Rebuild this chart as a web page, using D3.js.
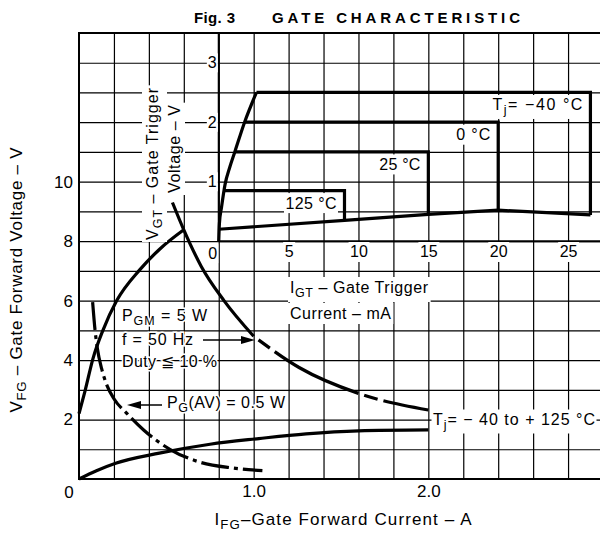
<!DOCTYPE html>
<html>
<head>
<meta charset="utf-8">
<script src="https://cdn.jsdelivr.net/npm/d3@7"></script>
<style>
    body { margin: 0; background: #fff; }
    svg text { font-family: "Liberation Sans", Arial, Helvetica, sans-serif; fill: #000; }
</style>
</head>
<body>
<svg id="chart" width="600" height="534"></svg>
<script>
// Fig. 3 gate characteristic: main chart in A / V, inset chart in mA / V

// main chart ticks
const xTicks = [1.0, 2.0];
const yTicks = [2, 4, 6, 8, 10];

// main curves, [IFG (A), VFG (V)]
const upperCurve = [[0, 2.2], [0.034, 2.95], [0.08, 4.05], [0.137, 5.0], [0.216, 6.0], [0.35, 7.05], [0.46, 7.72], [0.6, 8.38]];
const lowerCurve = [[0, 0], [0.1, 0.28], [0.21, 0.53], [0.46, 0.87], [0.75, 1.17], [1.03, 1.36], [1.3, 1.52], [1.6, 1.62], [2.0, 1.65]];
const pgmCurve = [[0.535, 9.3], [0.6, 8.38], [0.7, 7.15], [0.83, 6.0], [1.0, 4.8]];
const pgmTail = [[1.0, 4.8], [1.26, 3.75], [1.6, 2.88], [2.0, 2.32]];
const pgavCurve = [[0.078, 5.95], [0.092, 5.0], [0.105, 4.4], [0.13, 3.7], [0.16, 3.15], [0.2, 2.7], [0.275, 2.2], [0.37, 1.65], [0.52, 1.0], [0.69, 0.57], [0.88, 0.37], [1.05, 0.28]];

// inset ticks
const innerXTicks = [5, 10, 15, 20, 25];
const innerYTicks = [1, 2, 3];

// inset curves, [IGT (mA), VGT (V)]
const trigLeft = [[0, 0], [0.05, 0.3], [0.2, 0.57], [0.45, 0.95], [0.8, 1.25], [1.15, 1.5], [1.85, 2.0], [2.7, 2.5]];
const trigBottom = [[0, 0.2], [9, 0.35], [15, 0.45], [20, 0.52], [26.6, 0.44]];
const trigTemps = ["125 °C", "25 °C", "0 °C", "−40 °C"];
const trigTopV = [0.85, 1.5, 2.0, 2.5];
const trigLeftI = [0.4, 1.15, 1.85, 2.7];
const trigRightI = [9, 15, 20, 26.6];
const trigBottomV = [0.35, 0.45, 0.52, 0.44];

const svg = d3.select("#chart");
svg.append("rect").attr("width", 600).attr("height", 534).attr("fill", "#fff");

const x = d3.scaleLinear().domain([0, 3]).range([79, 603]);
const y = d3.scaleLinear().domain([0, 15]).range([479, 33]);
const xi = d3.scaleLinear().domain([0, 25]).range([x(0.8), x(2.8)]);
const yi = d3.scaleLinear().domain([0, 3]).range([y(8), y(14)]);

// grid every 0.2 A and 1 V
svg.append("g")
    .attr("transform", `translate(0,${y(0)})`)
    .call(d3.axisBottom(x).tickValues(d3.range(0.2, 3, 0.2)).tickSize(y(15) - y(0)).tickFormat(""))
    .call(g => g.select(".domain").remove())
    .call(g => g.selectAll("line").attr("stroke", "#000").attr("stroke-width", 1.2));

svg.append("g")
    .attr("transform", `translate(${x(0)},0)`)
    .call(d3.axisLeft(y).tickValues(d3.range(1, 15, 1)).tickSize(-(x(3) - x(0))).tickFormat(""))
    .call(g => g.select(".domain").remove())
    .call(g => g.selectAll("line").attr("stroke", "#000").attr("stroke-width", 1.2));

svg.append("rect")
    .attr("x", x(0)).attr("y", y(15))
    .attr("width", x(3) - x(0)).attr("height", y(0) - y(15))
    .attr("fill", "none").attr("stroke", "#000").attr("stroke-width", 2);

// inset axes
svg.append("line")
    .attr("x1", xi(0)).attr("x2", x(3)).attr("y1", yi(0)).attr("y2", yi(0))
    .attr("stroke", "#000").attr("stroke-width", 2);
svg.append("line")
    .attr("x1", xi(0)).attr("x2", xi(0)).attr("y1", y(15)).attr("y2", yi(0))
    .attr("stroke", "#000").attr("stroke-width", 2);

// white box behind a text, same transform
function knockout(text, pad = 1) {
    text.each(function () {
        const b = this.getBBox();
        d3.select(this.parentNode).insert("rect", () => this)
            .attr("x", b.x - pad).attr("y", b.y - pad)
            .attr("width", b.width + 2 * pad).attr("height", b.height + 2 * pad)
            .attr("transform", this.getAttribute("transform"))
            .attr("fill", "#fff");
    });
}

// text made of plain strings and [subscript] pieces
function label(parent, px, py, parts, opts = {}) {
    const size = opts.size || 16;
    const t = parent.append("text").attr("x", px).attr("y", py).attr("font-size", size);
    if (opts.anchor) t.attr("text-anchor", opts.anchor);
    if (opts.weight) t.attr("font-weight", opts.weight);
    if (opts.len) t.attr("textLength", opts.len).attr("lengthAdjust", "spacing");
    if (opts.rotate) t.attr("transform", `rotate(-90,${px},${py})`);
    let down = false;
    parts.forEach(p => {
        const sub = Array.isArray(p);
        const s = t.append("tspan").text(sub ? p[0] : p);
        if (sub && !down) { s.attr("dy", 4).attr("font-size", size * 0.78); down = true; }
        else if (!sub && down) { s.attr("dy", -4); down = false; }
    });
    if (opts.halo) {
        t.attr("stroke", "#fff").attr("stroke-width", 3).attr("paint-order", "stroke");
    }
    return t;
}

// curves
const lineMain = d3.line().x(d => x(d[0])).y(d => y(d[1])).curve(d3.curveMonotoneX);
const lineInner = d3.line().x(d => xi(d[0])).y(d => yi(d[1])).curve(d3.curveMonotoneX);

const curves = svg.append("g")
    .attr("fill", "none").attr("stroke", "#000").attr("stroke-width", 3.2);

curves.append("path").attr("d", lineMain(upperCurve));
curves.append("path").attr("d", lineMain(lowerCurve));
curves.append("path").attr("d", lineMain(pgmCurve));
curves.append("path").attr("d", lineMain(pgmTail))
    .attr("stroke-dasharray", "94,6,14,6").attr("stroke-dashoffset", 94);
curves.append("path").attr("d", lineMain(pgavCurve))
    .attr("stroke-dasharray", "28,5,4,5");

curves.append("path").attr("d", lineInner(trigLeft));
curves.append("path").attr("d", d3.line().x(d => xi(d[0])).y(d => yi(d[1]))(trigBottom));

trigTemps.forEach((t, i) => {
    curves.append("path")
        .attr("stroke-linejoin", "miter")
        .attr("d", d3.line()([
            [xi(trigLeftI[i]), yi(trigTopV[i])],
            [xi(trigRightI[i]), yi(trigTopV[i])],
            [xi(trigRightI[i]), yi(trigBottomV[i])]
        ]));
});

// temperature labels inside the inset boxes
const tempLen = [51, 41, 34, 90];
trigTemps.forEach((t, i) => {
    const parts = i === 3 ? ["T", ["j"], "= " + t] : [t];
    const txt = label(svg, xi(trigRightI[i]) - 8, yi(trigTopV[i]) + 18, parts,
        { anchor: "end", len: tempLen[i] });
    knockout(txt, 1.5);
});

// main tick labels
svg.append("g")
    .attr("transform", `translate(${x(0)},0)`)
    .call(d3.axisLeft(y).tickValues(yTicks).tickSize(0).tickPadding(6))
    .call(g => g.select(".domain").remove())
    .call(g => g.selectAll("text").attr("font-size", 17).attr("font-family", null));

svg.append("g")
    .attr("transform", `translate(0,${y(0)})`)
    .call(d3.axisBottom(x).tickValues(xTicks).tickSize(0).tickPadding(6).tickFormat(d3.format(".1f")))
    .call(g => g.select(".domain").remove())
    .call(g => g.selectAll("text").attr("font-size", 17).attr("font-family", null));

svg.append("text").attr("x", x(0) - 10).attr("y", y(0) + 19)
    .attr("text-anchor", "middle").attr("font-size", 17).text("0");

// inset tick labels
svg.append("g")
    .attr("transform", `translate(0,${yi(0)})`)
    .call(d3.axisBottom(xi).tickValues(innerXTicks).tickSize(0).tickPadding(5).tickFormat(d3.format("d")))
    .call(g => g.select(".domain").remove())
    .call(g => g.selectAll("text").attr("font-size", 16).attr("font-family", null))
    .call(g => knockout(g.selectAll("text"), 1.5));

svg.append("g")
    .attr("transform", `translate(${xi(0)},0)`)
    .call(d3.axisLeft(yi).tickValues(innerYTicks).tickSize(0).tickPadding(2).tickFormat(d3.format("d")))
    .call(g => g.select(".domain").remove())
    .call(g => g.selectAll("text").attr("font-size", 16).attr("font-family", null))
    .call(g => knockout(g.selectAll("text"), 1));

const zeroIn = svg.append("text").attr("x", xi(0) - 6).attr("y", yi(0) + 18)
    .attr("text-anchor", "middle").attr("font-size", 16).text("0");
knockout(zeroIn, 1);

// inset axis titles
knockout(label(svg, 158, 240, ["V", ["GT"], " – Gate Trigger"], { rotate: true, len: 152 }), 2);
knockout(label(svg, 180, 193, ["Voltage – V"], { rotate: true, len: 88 }), 2);
knockout(label(svg, 290, 293, ["I", ["GT"], " – Gate Trigger"], { len: 138 }), 2);
knockout(label(svg, 290, 319, ["Current – mA"], { len: 101 }), 2);

// ratings annotations
label(svg, 122, 321, ["P", ["GM"], " = 5 W"], { len: 85, halo: true });
label(svg, 122, 345, ["f = 50 Hz"], { len: 71, halo: true });
label(svg, 122, 367, ["Duty ≦ 10 %"], { len: 95, halo: true });
label(svg, 167, 408, ["P", ["G"], "(AV) = 0.5 W"], { len: 118, halo: true });
knockout(label(svg, 433, 425, ["T", ["j"], "= − 40 to + 125 °C"], { len: 162 }), 1.5);

// arrows
const arrows = svg.append("g").attr("stroke", "#000").attr("stroke-width", 1.5);
arrows.append("line").attr("x1", 203).attr("x2", 245).attr("y1", 340).attr("y2", 340);
arrows.append("path").attr("d", "M255,340L241,336L241,344Z").attr("fill", "#000").attr("stroke", "none");
arrows.append("line").attr("x1", 162).attr("x2", 137).attr("y1", 405).attr("y2", 405);
arrows.append("path").attr("d", "M127,405L141,401L141,409Z").attr("fill", "#000").attr("stroke", "none");

// axis titles and figure title
label(svg, 22, 280, ["V", ["FG"], " – Gate Forward Voltage – V"], { rotate: true, anchor: "middle", size: 17, len: 265 });
label(svg, 343, 525, ["I", ["FG"], "–Gate Forward Current – A"], { anchor: "middle", size: 17, len: 257 });

label(svg, 194, 23, ["Fig. 3"], { size: 15, weight: "bold", len: 41 });
label(svg, 272, 23, ["GATE CHARACTERISTIC"], { size: 15, weight: "bold", len: 248 });
</script>
</body>
</html>
